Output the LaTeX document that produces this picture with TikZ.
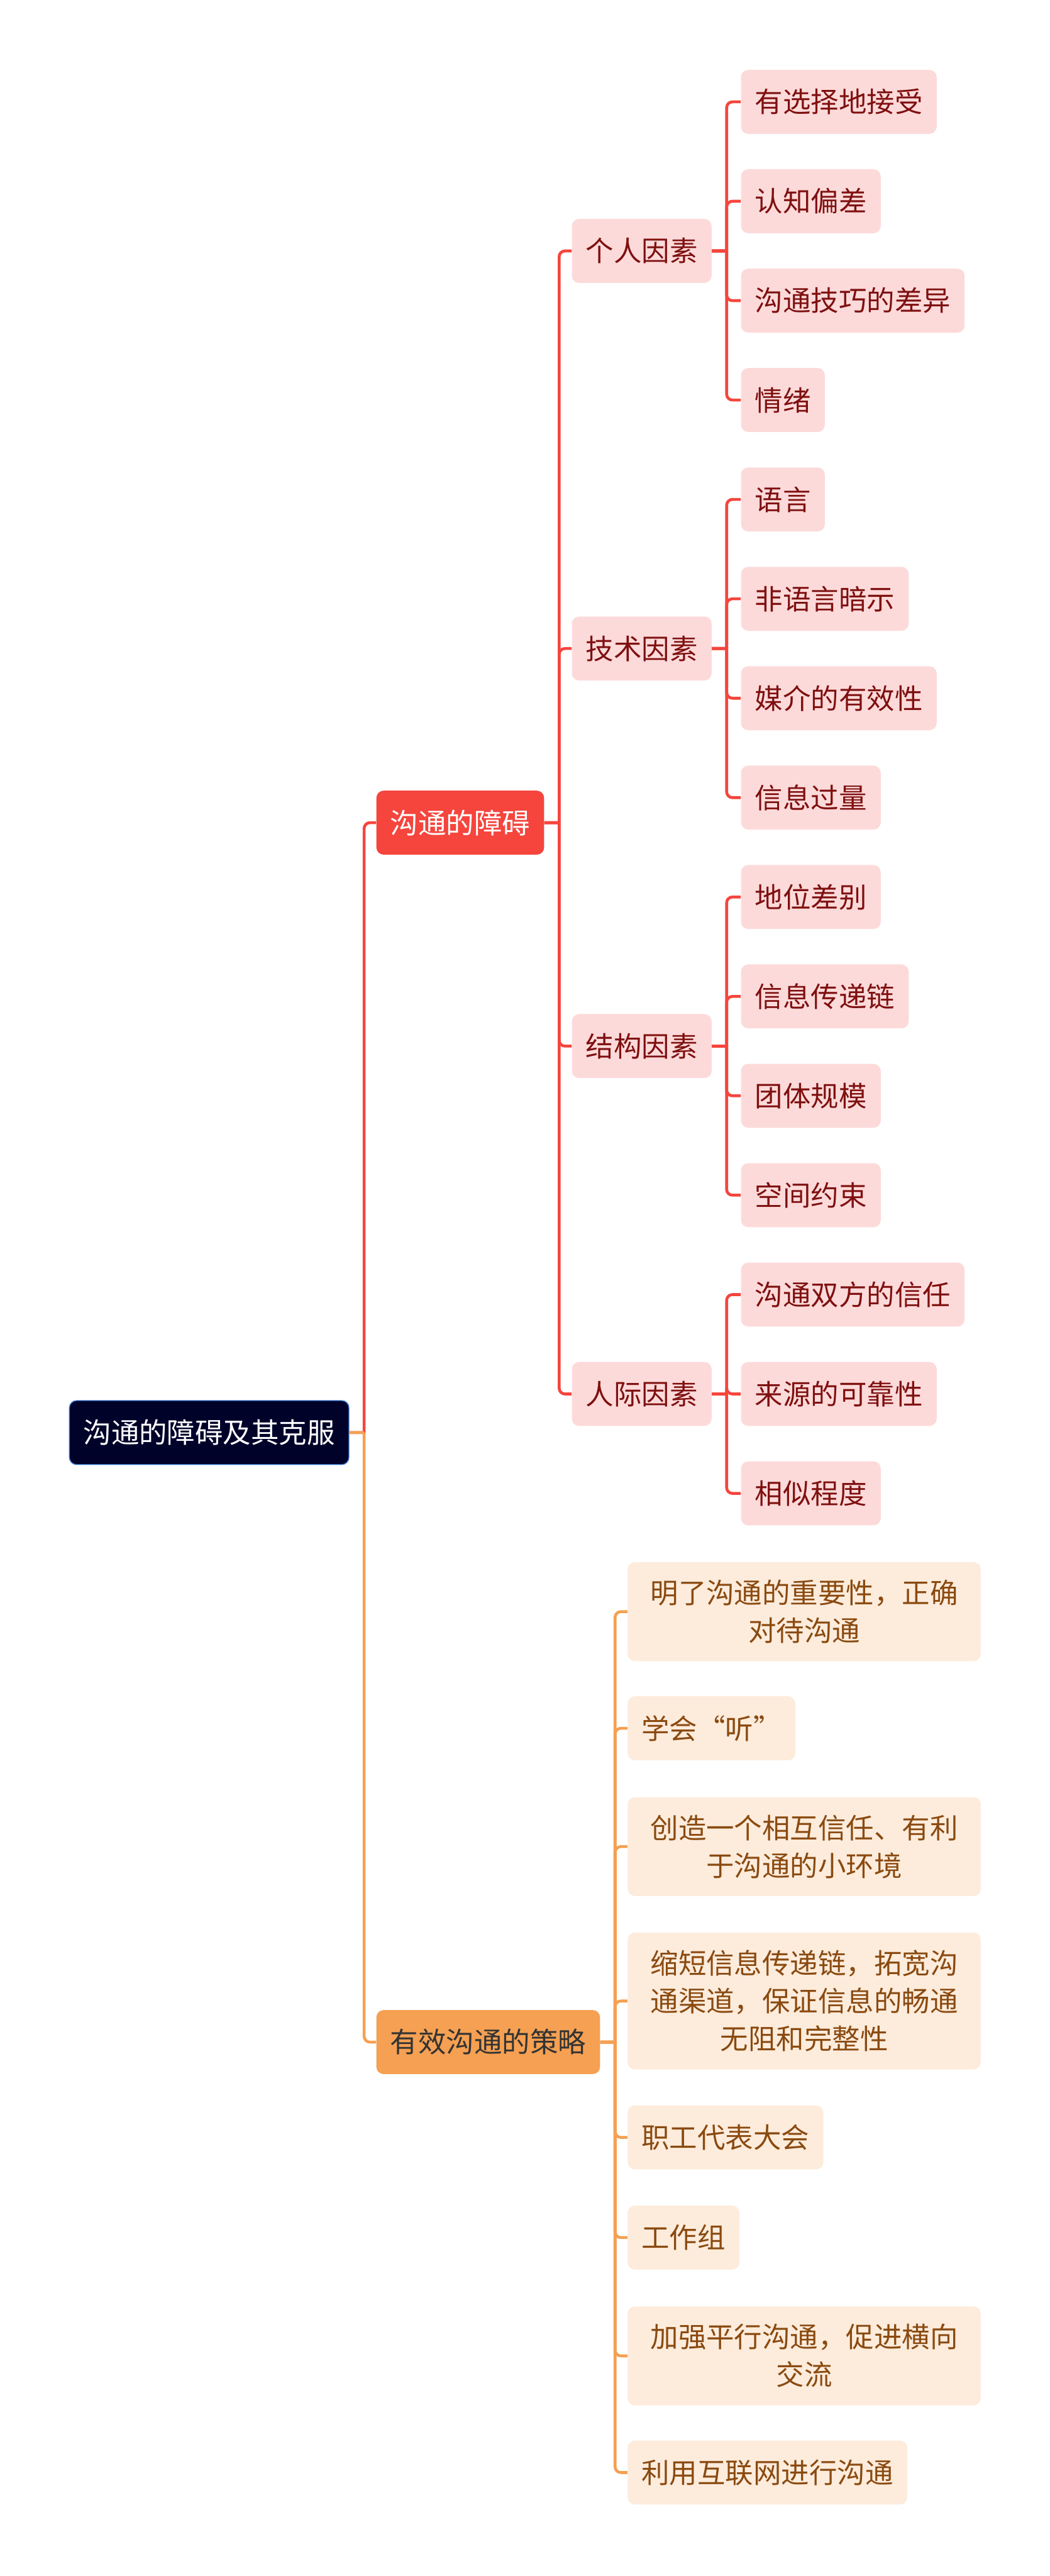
\documentclass[tikz,border=0pt]{standalone}
\usepackage{fontspec}
\newfontfamily\cjk{Noto Sans CJK SC}
\definecolor{rootfill}{HTML}{000229}
\definecolor{rootline}{HTML}{3A7BD5}
\definecolor{redmain}{HTML}{F5453D}
\definecolor{redsoft}{HTML}{FDDADA}
\definecolor{redtext}{HTML}{7F1010}
\definecolor{orgmain}{HTML}{F5A052}
\definecolor{orgsoft}{HTML}{FDECDC}
\definecolor{orgtext}{HTML}{8A4A10}
\begin{document}
\begin{tikzpicture}[x = 0.04006cm, y = -0.04006cm,
	box/.style = {rounded corners = 5pt, anchor = west, inner xsep = 0.34cm, inner ysep = 0.43cm, minimum height = 1.56cm, font = \cjk\fontsize{19.4pt}{26.2pt}\selectfont},
	rootbox/.style = {box, fill = rootfill, draw = rootline, line width = 0.6pt, text = white},
	redbox/.style = {box, fill = redmain, text = white},
	orgbox/.style = {box, fill = orgmain, text = black!80},
	redleaf/.style = {box, fill = redsoft, text = redtext},
	orgleaf/.style = {box, fill = orgsoft, text = orgtext},
	wide/.style = {align = center, text width = 7.93cm},
	narrow/.style = {},
	redline/.style = {draw = redmain, line width = 2pt, rounded corners = 4pt},
	orgline/.style = {draw = orgmain, line width = 2pt, rounded corners = 4pt}]
\fill[white] (0,0) rectangle (639,1568);
\useasboundingbox (0,0) rectangle (639,1568);
% main topic and the two branches
\node[rootbox] (root) at (42, 872) {沟通的障碍及其克服};
\node[redbox] (obst) at (229, 500.75) {沟通的障碍};
\node[orgbox] (strat) at (229, 1243) {有效沟通的策略};
\draw[redline] (root.east) -- ++(9,0) ++(0,0) |- (obst.west);
\draw[orgline] (root.east) -- ++(9,0) ++(0,0) |- (strat.west);
% barriers
\foreach \name/\y/\txt in {personal/152.75/个人因素, tech/394.75/技术因素, struct/636.75/结构因素, inter/848.5/人际因素}
{
	\node[redleaf] (\name) at (348, \y) {\txt};
	\draw[redline] (obst.east) -- ++(9,0) ++(0,0) |- (\name.west);
}
\foreach \txt/\up [count = \i from 0] in {有选择地接受/personal, 认知偏差/personal, 沟通技巧的差异/personal, 情绪/personal,
	语言/tech, 非语言暗示/tech, 媒介的有效性/tech, 信息过量/tech,
	地位差别/struct, 信息传递链/struct, 团体规模/struct, 空间约束/struct,
	沟通双方的信任/inter, 来源的可靠性/inter, 相似程度/inter}
{
	\node[redleaf] (leaf\i) at (451, {62 + 60.5*\i}) {\txt};
	\draw[redline] (\up.east) -- ++(9,0) ++(0,0) |- (leaf\i.west);
}
% strategies
\foreach \txt/\y/\kind [count = \i] in {{明了沟通的重要性，正确\\对待沟通}/981/wide, 学会“听”/1052/narrow,
	{创造一个相互信任、有利\\于沟通的小环境}/1124/wide, {缩短信息传递链，拓宽沟\\通渠道，保证信息的畅通\\无阻和完整性}/1218/wide,
	职工代表大会/1301/narrow, 工作组/1362/narrow, {加强平行沟通，促进横向\\交流}/1434/wide, 利用互联网进行沟通/1505/narrow}
{
	\node[orgleaf, \kind] (way\i) at (382, \y) {\txt};
	\draw[orgline] (strat.east) -- ++(9,0) ++(0,0) |- (way\i.west);
}
\end{tikzpicture}
\end{document}
